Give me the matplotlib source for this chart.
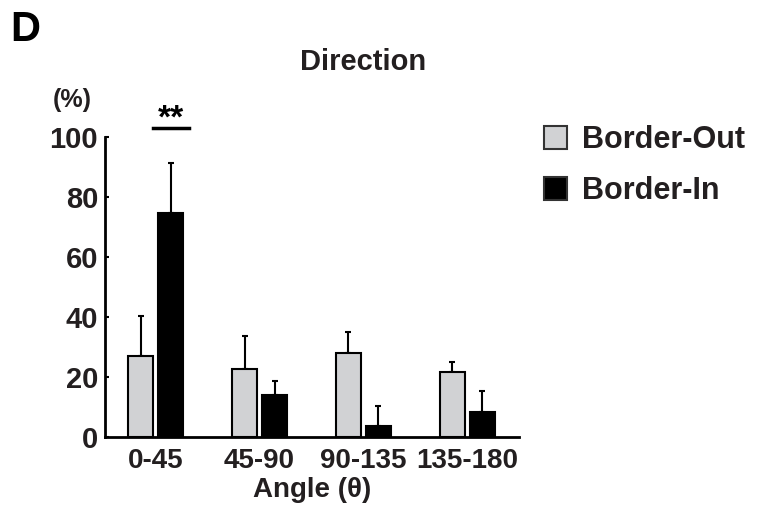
import numpy as np
import matplotlib.pyplot as plt

plt.rcParams['font.family'] = ['Liberation Sans', 'DejaVu Sans']
plt.rcParams['font.weight'] = 'bold'
plt.rcParams['axes.labelweight'] = 'bold'

categories = ["0-45", "45-90", "90-135", "135-180"]
out_vals = [27.0, 22.8, 28.1, 21.6]
out_err = [13.4, 11.0, 7.0, 3.3]
in_vals = [74.8, 13.9, 3.8, 8.2]
in_err = [16.4, 4.9, 6.6, 7.2]

txt = '#231f20'
gray = '#d1d2d4'

fig = plt.figure(figsize=(7.63, 5.28), dpi=100)
ax = fig.add_axes([105/763, 1-437/528, 414/763, 300/528])

x = np.arange(len(categories))
w = 0.24
off = 0.145
ax.bar(x - off, out_vals, w, color=gray, edgecolor='black', linewidth=1.5,
       label='Border-Out', zorder=2)
ax.bar(x + off, in_vals, w, color='black', edgecolor='black', linewidth=1.5,
       label='Border-In', zorder=2)
ax.errorbar(x - off, out_vals, yerr=[np.zeros(4), out_err], fmt='none',
            ecolor='black', elinewidth=1.5, capsize=2.5, capthick=1.5, zorder=1)
ax.errorbar(x + off, in_vals, yerr=[np.zeros(4), in_err], fmt='none',
            ecolor='black', elinewidth=1.5, capsize=2.5, capthick=1.5, zorder=1)

ax.set_xlim(-0.49, 3.5)
ax.set_ylim(0, 100)
ax.set_yticks([0, 20, 40, 60, 80, 100])
ax.set_xticks(x)
ax.set_xticklabels(categories)
for s in ['top', 'right']:
    ax.spines[s].set_visible(False)
for s in ['left', 'bottom']:
    ax.spines[s].set_linewidth(2)
ax.tick_params(axis='y', direction='in', length=3, width=1.5, pad=5,
               labelsize=21, labelcolor=txt)
ax.tick_params(axis='x', length=0, pad=8, labelsize=20, labelcolor=txt)
ax.set_xlabel('Angle (θ)', fontsize=20, color=txt, labelpad=2)

# significance marker
ax.plot([-0.03, 0.32], [103, 103], color='black', lw=2.5, clip_on=False)
ax.text(0.145, 103.2, '**', ha='center', va='baseline', fontsize=24, color='black')

leg = ax.legend(loc='upper left', bbox_to_anchor=((532-105)/414, 1.08), frameon=False,
                fontsize=22, handlelength=0.75, handleheight=0.75,
                handletextpad=0.5, labelspacing=0.68, borderaxespad=0)
for t in leg.get_texts():
    t.set_color(txt)
for h in leg.legend_handles:
    h.set_edgecolor('#333333')

fig.text(363/763, 1-62/528, 'Direction', ha='center', va='center',
         fontsize=21, color=txt)
fig.text(10/763, 1-30/528, 'D', ha='left', va='center', fontsize=30, color='black')
fig.text(72/763, 1-100/528, '(%)', ha='center', va='center', fontsize=18, color=txt)

fig.savefig('out.png', dpi=100)
